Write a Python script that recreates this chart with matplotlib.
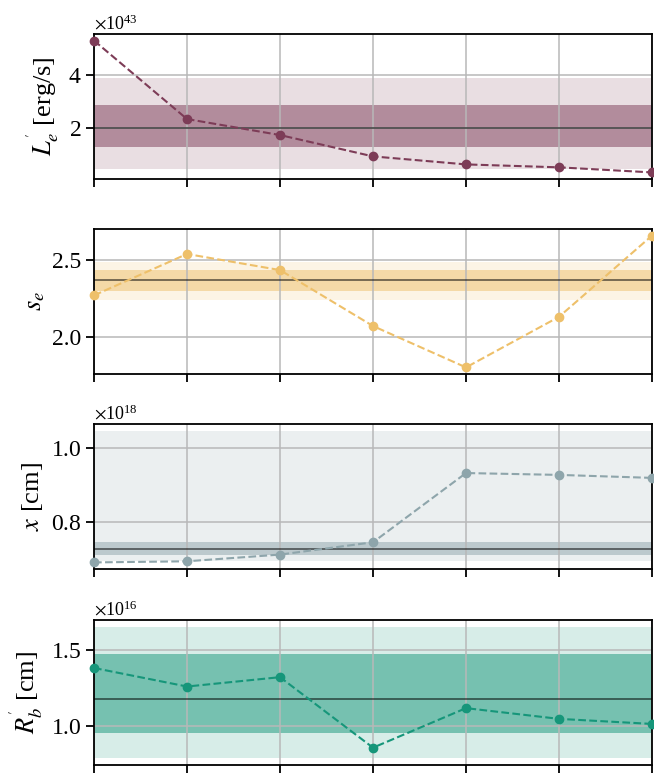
import numpy as np
import matplotlib.pyplot as plt

plt.rcParams['font.family'] = ['Liberation Serif', 'DejaVu Serif']
plt.rcParams['mathtext.fontset'] = 'stix'

# ---------------------------------------------------------------
# Fitted parameter per run (7 runs) with posterior mean and bands
# ---------------------------------------------------------------
runs = np.arange(7)

L_e = np.array([5.28, 2.34, 1.74, 0.94, 0.64, 0.53, 0.34]) * 1e43
s_e = np.array([2.27, 2.54, 2.435, 2.07, 1.80, 2.13, 2.66])
x_dist = np.array([0.692, 0.695, 0.713, 0.746, 0.932, 0.927, 0.919]) * 1e18
R_b = np.array([1.38, 1.259, 1.32, 0.86, 1.118, 1.048, 1.015]) * 1e16

# (mean, inner band low/high, outer band low/high)
L_e_stats = (2.0e43, (1.28e43, 2.87e43), (0.45e43, 3.89e43))
s_e_stats = (2.37, (2.30, 2.434), (2.237, 2.49))
x_stats = (0.727e18, (0.711e18, 0.746e18), (0.695e18, 1.046e18))
R_b_stats = (1.178e16, (0.954e16, 1.474e16), (0.79e16, 1.65e16))

labels = [r"$L_e^{'}$ [erg/s]", r"$s_e$", r"$x$ [cm]", r"$R_b^{'}$ [cm]"]
colors = ['#7D3C57', '#EEC06A', '#8EA5AB', '#16967A']
yticks = [[2e43, 4e43], [2.0, 2.5], [0.8e18, 1.0e18], [1.0e16, 1.5e16]]
series = [L_e, s_e, x_dist, R_b]
stats = [L_e_stats, s_e_stats, x_stats, R_b_stats]
use_sci = [True, False, True, True]

fig = plt.figure(figsize=(6.54, 7.74), dpi=100)
W, H = 654, 774
left, right = 94, 652
tops = [34, 229, 424, 620]
height = 145

for i in range(4):
    ax = fig.add_axes([left / W, 1 - (tops[i] + height) / H,
                       (right - left) / W, height / H])
    mean, inner, outer = stats[i]
    c = colors[i]
    ax.axhspan(outer[0], outer[1], color=c, alpha=0.17, lw=0, zorder=1)
    ax.axhspan(inner[0], inner[1], color=c, alpha=0.5, lw=0, zorder=1)
    ax.axhline(mean, color='black', alpha=0.6, lw=1.2, zorder=1.8)
    ax.plot(runs, series[i], ls='--', marker='o', ms=6, lw=1.5,
            color=c, zorder=3, clip_on=False)

    ax.set_xlim(runs[0], runs[-1])
    ax.set_xticks(runs)
    ax.set_xticklabels([])
    ax.set_yticks(yticks[i])
    ax.grid(True, color='#b8b8b8', lw=1.1)
    ax.tick_params(labelsize=17, direction='out', length=6, width=1.3,
                   pad=3)
    for sp in ax.spines.values():
        sp.set_linewidth(1.3)
    if use_sci[i]:
        ax.ticklabel_format(axis='y', style='sci', scilimits=(0, 0),
                            useMathText=True)
        ax.yaxis.get_offset_text().set_fontsize(13)
    ax.set_ylabel(labels[i], fontsize=19, labelpad=4)

plt.savefig('out.png', dpi=100)
